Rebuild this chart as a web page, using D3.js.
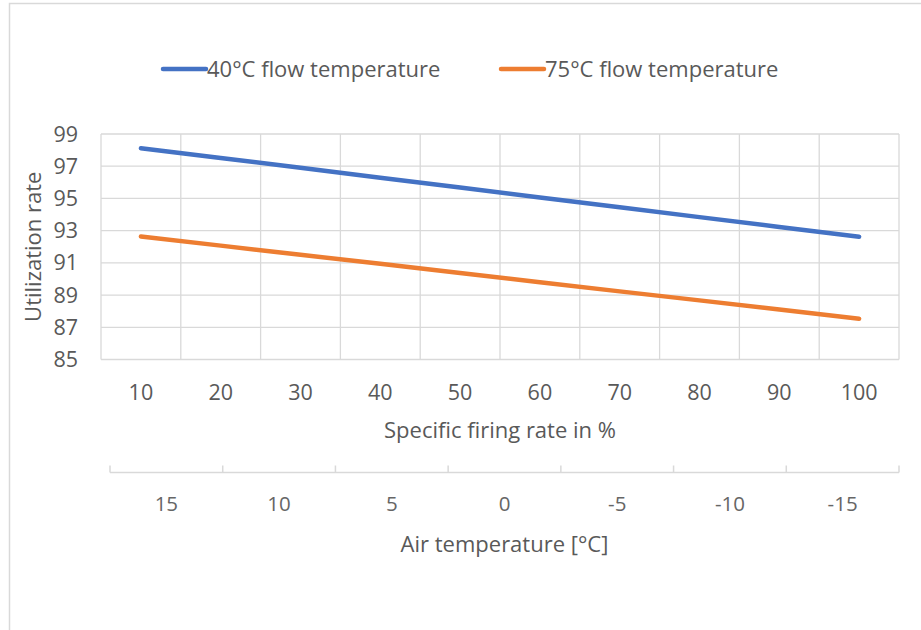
<!DOCTYPE html>
<html><head><meta charset="utf-8">
<script src="https://cdn.jsdelivr.net/npm/d3@7"></script>
<style>
html,body{margin:0;padding:0;background:#fff;}
text{font-family:"Open Sans", sans-serif;}
</style></head>
<body>
<svg id="chart" width="921" height="630"></svg>
<script>
const categories = [10, 20, 30, 40, 50, 60, 70, 80, 90, 100];
const series40 = [98.12, 97.51, 96.90, 96.29, 95.68, 95.06, 94.45, 93.84, 93.23, 92.62];
const series75 = [92.64, 92.07, 91.50, 90.94, 90.37, 89.80, 89.23, 88.67, 88.10, 87.53];
const seriesNames = ["40°C flow temperature", "75°C flow temperature"];
const seriesColors = ["#4472C4", "#ED7D31"];
const airTemps = ["15", "10", "5", "0", "-5", "-10", "-15"];
const yTicks = [85, 87, 89, 91, 93, 95, 97, 99];

(function () {
const svg = d3.select("#chart");
const textCol = "#595959", gridCol = "#d9d9d9";
const fsTick = 21.5, fsTitle = 22;

// chart border
svg.append("rect").attr("x", 9.5).attr("y", 3.5).attr("width", 930).attr("height", 650)
  .attr("fill", "none").attr("stroke", gridCol).attr("stroke-width", 1.5);

const pLeft = 101, pRight = 899, pTop = 134, pBottom = 359.5;
const x = d3.scaleBand().domain(categories).range([pLeft, pRight]);
const y = d3.scaleLinear().domain([85, 99]).range([pBottom, pTop]);

// horizontal gridlines
svg.append("g").selectAll("line").data(yTicks).join("line")
  .attr("x1", pLeft).attr("x2", pRight).attr("y1", d => y(d)).attr("y2", d => y(d))
  .attr("stroke", gridCol).attr("stroke-width", 1.3);
// vertical gridlines at band boundaries
const bounds = categories.map(c => x(c)).concat([pRight]);
svg.append("g").selectAll("line").data(bounds).join("line")
  .attr("x1", d => d).attr("x2", d => d).attr("y1", pTop).attr("y2", pBottom)
  .attr("stroke", gridCol).attr("stroke-width", 1.3);

// y axis labels
svg.append("g").selectAll("text").data(yTicks).join("text")
  .attr("x", 78).attr("y", d => y(d)).attr("dy", "0.35em")
  .attr("text-anchor", "end").attr("fill", textCol).attr("font-size", fsTick).text(d => d);

// x axis labels
svg.append("g").selectAll("text").data(categories).join("text")
  .attr("x", d => x(d) + x.bandwidth() / 2).attr("y", 392).attr("dy", "0.35em")
  .attr("text-anchor", "middle").attr("fill", textCol).attr("font-size", fsTick).text(d => d);

// axis titles
svg.append("text").attr("x", (pLeft + pRight) / 2).attr("y", 430).attr("dy", "0.35em")
  .attr("text-anchor", "middle").attr("fill", textCol).attr("font-size", fsTitle)
  .text("Specific firing rate in %");
svg.append("text").attr("transform", `translate(33,${(pTop + pBottom) / 2}) rotate(-90)`)
  .attr("dy", "0.35em").attr("text-anchor", "middle").attr("fill", textCol).attr("font-size", fsTitle)
  .text("Utilization rate");

// lines
const line = d3.line().x((d, i) => x(categories[i]) + x.bandwidth() / 2).y(d => y(d));
[series40, series75].forEach((s, i) => {
  svg.append("path").datum(s).attr("d", line).attr("fill", "none")
    .attr("stroke", seriesColors[i]).attr("stroke-width", 4.5).attr("stroke-linecap", "round")
    .attr("stroke-linejoin", "round");
});

// secondary axis
const x2 = d3.scaleBand().domain(airTemps).range([110, 899]);
const axY = 472.5;
svg.append("line").attr("x1", 110).attr("x2", 899).attr("y1", axY).attr("y2", axY)
  .attr("stroke", gridCol).attr("stroke-width", 1.5);
const b2 = airTemps.map(t => x2(t)).concat([899]);
svg.append("g").selectAll("line").data(b2).join("line")
  .attr("x1", d => d).attr("x2", d => d).attr("y1", axY - 7).attr("y2", axY)
  .attr("stroke", gridCol).attr("stroke-width", 1.5);
svg.append("g").selectAll("text").data(airTemps).join("text")
  .attr("x", d => x2(d) + x2.bandwidth() / 2).attr("y", 504).attr("dy", "0.35em")
  .attr("text-anchor", "middle").attr("fill", "#666").attr("font-size", 20.5).text(d => d);
svg.append("text").attr("x", (110 + 899) / 2).attr("y", 544).attr("dy", "0.35em")
  .attr("text-anchor", "middle").attr("fill", textCol).attr("font-size", fsTitle)
  .text("Air temperature [°C]");

// legend
const legX = [163, 501];
seriesNames.forEach((n, i) => {
  const g = svg.append("g");
  g.append("line").attr("x1", legX[i]).attr("x2", legX[i] + 43).attr("y1", 69).attr("y2", 69)
    .attr("stroke", seriesColors[i]).attr("stroke-width", 4.5).attr("stroke-linecap", "round");
  g.append("text").attr("x", legX[i] + 44).attr("y", 69).attr("dy", "0.35em")
    .attr("fill", textCol).attr("font-size", fsTitle).text(n);
});
})();
</script>
</body></html>
